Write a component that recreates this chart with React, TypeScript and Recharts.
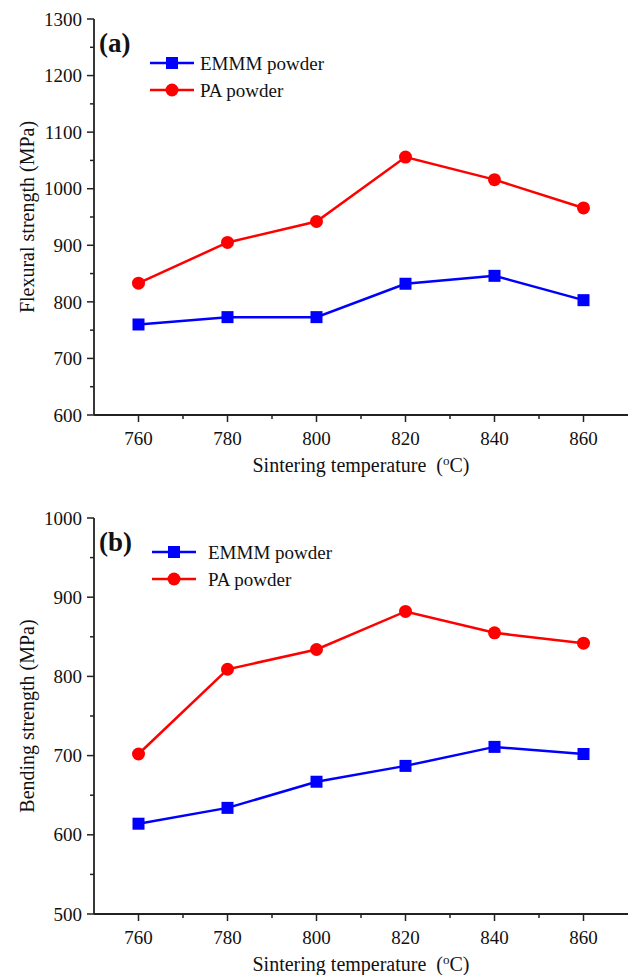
import { LineChart, Line, XAxis, YAxis, Legend, Label } from 'recharts';

const temps = [760, 780, 800, 820, 840, 860];
const flexEmmm = [760, 773, 773, 832, 846, 803];
const flexPa = [833, 905, 942, 1056, 1016, 966];
const bendEmmm = [614, 634, 667, 687, 711, 702];
const bendPa = [702, 809, 834, 882, 855, 842];

const xTicks = [760, 770, 780, 790, 800, 810, 820, 830, 840, 850, 860];
const flexTicks = [600, 650, 700, 750, 800, 850, 900, 950, 1000, 1050, 1100, 1150, 1200, 1250, 1300];
const bendTicks = [500, 550, 600, 650, 700, 750, 800, 850, 900, 950, 1000];

const FONT = '"Liberation Serif", "Times New Roman", serif';
const AXIS = '#222';
const BLUE = '#0000ff';
const RED = '#ff0000';

const SquareDot = (p: any) => {
  const { cx, cy } = p;
  if (cx == null || cy == null) return null;
  return <rect x={cx - 6} y={cy - 6} width={12} height={12} fill={BLUE} />;
};
const CircleDot = (p: any) => {
  const { cx, cy } = p;
  if (cx == null || cy == null) return null;
  return <circle cx={cx} cy={cy} r={6.5} fill={RED} />;
};

const XTick = (p: any) => {
  const { x, y, payload } = p;
  const major = payload.value % 20 === 0;
  return (
    <g>
      <line x1={x} y1={y} x2={x} y2={y + (major ? 7 : 4)} stroke={AXIS} strokeWidth={1.5} />
      {major && (
        <text x={x} y={y + 23} textAnchor="middle" dy="0.35em" fontSize={19} fontFamily={FONT} fill="#111">
          {payload.value}
        </text>
      )}
    </g>
  );
};

const YTick = (p: any) => {
  const { x, y, payload } = p;
  const major = payload.value % 100 === 0;
  return (
    <g>
      <line x1={x} y1={y} x2={x - (major ? 7 : 4)} y2={y} stroke={AXIS} strokeWidth={1.5} />
      {major && (
        <text x={x - 12} y={y} textAnchor="end" dy="0.35em" fontSize={19} fontFamily={FONT} fill="#111">
          {payload.value}
        </text>
      )}
    </g>
  );
};

const XTitle = (p: any) => {
  const { viewBox } = p;
  const cx = viewBox.x + viewBox.width / 2;
  return (
    <text x={cx} y={viewBox.y + 50} textAnchor="middle" dy="0.35em" fontSize={20} fontFamily={FONT} fill="#111">
      Sintering temperature{'\u00a0\u00a0'}(
      <tspan dy={-7} fontSize={13}>o</tspan>
      <tspan dy={7}>C)</tspan>
    </text>
  );
};

const LegendBox = (textX: number) => (p: any) => {
  const { payload } = p;
  return (
    <svg width={240} height={60}>
      {payload.map((e: any, i: number) => {
        const y = 12 + i * 27;
        const isBlue = e.color === BLUE;
        return (
          <g key={i}>
            <line x1={2} y1={y} x2={46} y2={y} stroke={e.color} strokeWidth={2.5} />
            {isBlue ? (
              <rect x={18} y={y - 6} width={12} height={12} fill={BLUE} />
            ) : (
              <circle cx={24} cy={y} r={6.5} fill={RED} />
            )}
            <text x={textX} y={y} dy="0.35em" fontSize={19} fontFamily={FONT} fill="#111">
              {e.value}
            </text>
          </g>
        );
      })}
    </svg>
  );
};

type PanelProps = {
  top: number;
  height: number;
  marginTop: number;
  xAxisHeight: number;
  emmm: number[];
  pa: number[];
  yDomain: [number, number];
  yTicks: number[];
  yTitle: string;
  tag: string;
  legendLeft: number;
  legendTop: number;
  legendTextX: number;
};

function Panel(props: PanelProps) {
  const data = temps.map((t, i) => ({ t, emmm: props.emmm[i], pa: props.pa[i] }));
  return (
    <div style={{ position: 'absolute', left: 0, top: props.top, width: 630, height: props.height }}>
      <LineChart width={630} height={props.height} data={data} margin={{ top: props.marginTop, right: 2, left: 0, bottom: 0 }}>
        <XAxis
          dataKey="t"
          type="number"
          domain={[750, 870]}
          ticks={xTicks}
          interval={0}
          height={props.xAxisHeight}
          tickSize={0}
          tickMargin={0}
          tick={<XTick />}
          axisLine={{ stroke: AXIS, strokeWidth: 1.8 }}
        >
          <Label content={<XTitle />} />
        </XAxis>
        <XAxis xAxisId="top" orientation="top" dataKey="t" type="number" domain={[750, 870]} height={0} tick={false} tickLine={false} axisLine={{ stroke: AXIS, strokeWidth: 1.5 }} />
        <YAxis
          type="number"
          domain={props.yDomain}
          ticks={props.yTicks}
          interval={0}
          width={94}
          tickSize={0}
          tickMargin={0}
          tick={<YTick />}
          axisLine={{ stroke: AXIS, strokeWidth: 1.8 }}
        >
          <Label
            value={props.yTitle}
            angle={-90}
            position="insideLeft"
            offset={27}
            style={{ textAnchor: 'middle', fontSize: 20, fontFamily: FONT, fill: '#111' }}
          />
        </YAxis>
        <YAxis yAxisId="right" orientation="right" domain={props.yDomain} width={0} tick={false} tickLine={false} axisLine={{ stroke: AXIS, strokeWidth: 1.5 }} />
        <Legend
          layout="vertical"
          verticalAlign="middle"
          align="center"
          content={LegendBox(props.legendTextX)}
          wrapperStyle={{ position: 'absolute', left: props.legendLeft, top: props.legendTop, width: 240 }}
        />
        <Line dataKey="emmm" name="EMMM powder" stroke={BLUE} strokeWidth={2.5} dot={<SquareDot />} isAnimationActive={false} legendType="square" />
        <Line dataKey="pa" name="PA powder" stroke={RED} strokeWidth={2.5} dot={<CircleDot />} isAnimationActive={false} legendType="circle" />
      </LineChart>
      <div
        style={{
          position: 'absolute',
          left: 99,
          top: props.marginTop + 8,
          fontFamily: FONT,
          fontWeight: 'bold',
          fontSize: 27,
          color: '#111',
          lineHeight: '32px',
        }}
      >
        {props.tag}
      </div>
    </div>
  );
}

export default function App() {
  return (
    <div style={{ position: 'absolute', left: 0, top: 0, width: 630, height: 975, background: '#fff' }}>
      <Panel
        top={0}
        height={487}
        marginTop={19}
        xAxisHeight={72}
        emmm={flexEmmm}
        pa={flexPa}
        yDomain={[600, 1300]}
        yTicks={flexTicks}
        yTitle="Flexural strength (MPa)"
        tag="(a)"
        legendLeft={148}
        legendTop={51}
        legendTextX={52}
      />
      <Panel
        top={487}
        height={488}
        marginTop={31}
        xAxisHeight={61}
        emmm={bendEmmm}
        pa={bendPa}
        yDomain={[500, 1000]}
        yTicks={bendTicks}
        yTitle="Bending strength (MPa)"
        tag="(b)"
        legendLeft={150}
        legendTop={53}
        legendTextX={58}
      />
    </div>
  );
}
